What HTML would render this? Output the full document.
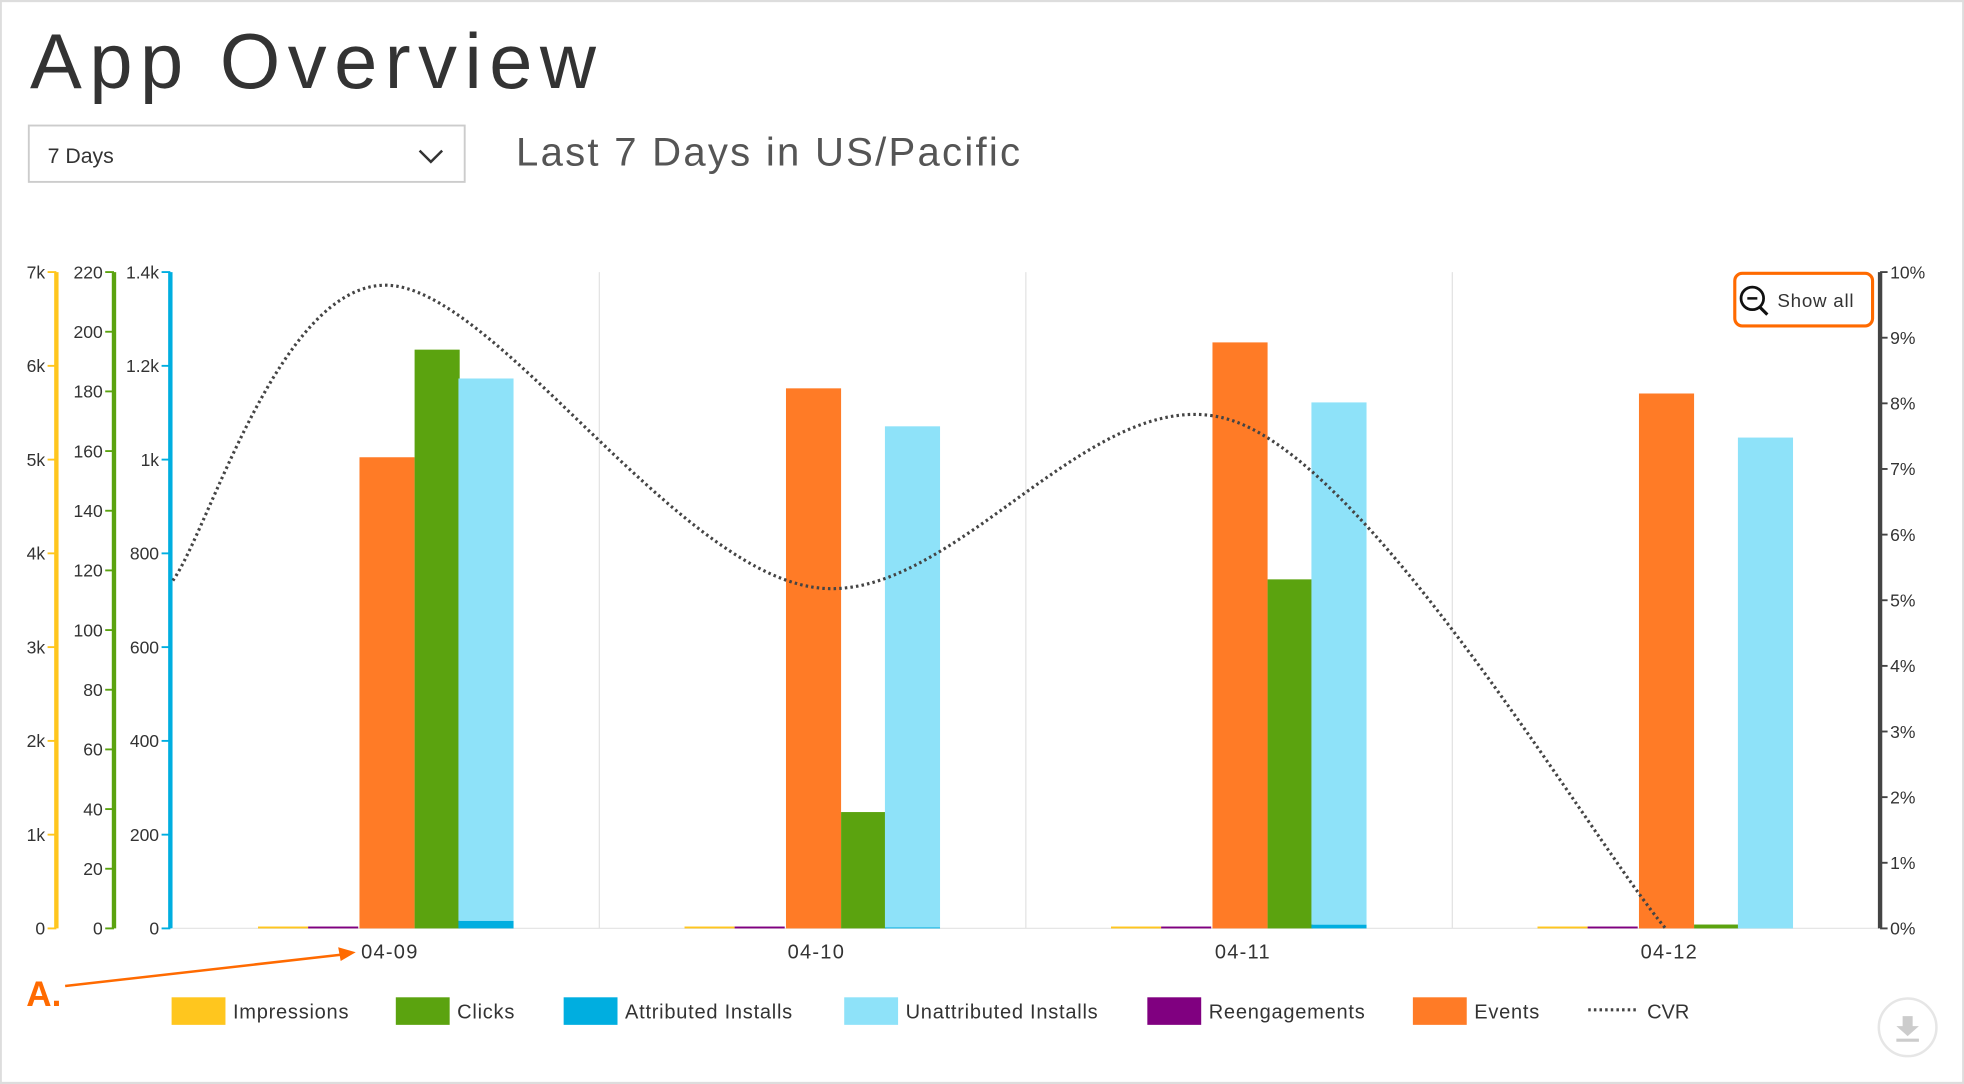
<!DOCTYPE html>
<html><head><meta charset="utf-8">
<style>
html,body{margin:0;padding:0;background:#fff;}
svg{display:block;font-family:"Liberation Sans",sans-serif;}
</style></head>
<body>
<svg id="chart" width="1964" height="1084" viewBox="0 0 1568 865" xmlns="http://www.w3.org/2000/svg">
<rect x="0.5" y="0.5" width="1567" height="864" fill="#fff" stroke="#ddd" stroke-width="2"/>
<text x="24" y="70" font-size="62" fill="#333" letter-spacing="6">App Overview</text>
<g>
<rect x="23" y="100" width="348" height="45" fill="#fff" stroke="#ccc" stroke-width="1.5"/>
<text x="38" y="130" font-size="17" fill="#333">7 Days</text>
<path d="M335 120 L344 129 L353 120" fill="none" stroke="#333" stroke-width="2"/>
</g>
<text x="412" y="132" font-size="32" fill="#555" letter-spacing="1.8">Last 7 Days in US/Pacific</text>
<g id="plot"></g>
<g>
<rect x="1385" y="218" width="110" height="42" rx="6" fill="#fff" stroke="#FF6A00" stroke-width="2.5"/>
<circle cx="1399" cy="238" r="9" fill="none" stroke="#111" stroke-width="2.2"/>
<line x1="1395" y1="238" x2="1403" y2="238" stroke="#111" stroke-width="2"/>
<line x1="1405" y1="245" x2="1411" y2="251" stroke="#111" stroke-width="2.5"/>
<text x="1419" y="245" font-size="15" fill="#333" letter-spacing="0.6">Show all</text>
</g>
<g>
<text x="21" y="803" font-size="28" font-weight="bold" fill="#FF6A00">A.</text>
<line x1="52" y1="787" x2="272" y2="762" stroke="#FF6A00" stroke-width="2"/>
<path d="M284 760 L270 756 L272 767 Z" fill="#FF6A00"/>
</g>
<g id="legend"></g>
<g>
<circle cx="1523" cy="820" r="23" fill="#fff" stroke="#e6e6e6" stroke-width="2"/>
<path d="M1519 811 h8 v8 h5 l-9 8 l-9 -8 h5 z" fill="#ccc"/>
<rect x="1514" y="829" width="18" height="2.5" fill="#ccc"/>
</g>
</svg>
<script>
const categories = ["04-09","04-10","04-11","04-12"];
const impressions = [6, 5, 6, 5];
const clicks = [194, 39, 117, 1.3];
const attributedInstalls = [16, 2, 8, 0];
const unattributedInstalls = [1157, 1069, 1114, 1047];
const reengagements = [1, 1, 1, 1];
const events = [1005, 1152, 1250, 1141];
const cvr = [9.8, 5.2, 7.7, 0];
const cvrStart = 5.3;
const yellowTicks = [0,1000,2000,3000,4000,5000,6000,7000];
const yellowLabels = ["0","1k","2k","3k","4k","5k","6k","7k"];
const greenTicks = [0,20,40,60,80,100,120,140,160,180,200,220];
const blueTicks = [0,200,400,600,800,1000,1200,1400];
const blueLabels = ["0","200","400","600","800","1k","1.2k","1.4k"];
const rightTicks = [0,1,2,3,4,5,6,7,8,9,10];

const NS="http://www.w3.org/2000/svg";
const plot=document.getElementById('plot');
function mk(tag,attrs,parent){const e=document.createElementNS(NS,tag);for(const k in attrs)e.setAttribute(k,attrs[k]);(parent||plot).appendChild(e);return e;}
const pTop=217,pBot=741,H=pBot-pTop,pLeft=138,pRight=1500;
const bandW=(pRight-pLeft)/categories.length;
const yY=v=>pBot-v/7000*H, yG=v=>pBot-v/220*H, yB=v=>pBot-v/1400*H, yR=v=>pBot-v/10*H;
const xBand=i=>pLeft+i*bandW;

for(let i=1;i<categories.length;i++){const l=mk('line',{x1:xBand(i),x2:xBand(i),y1:pTop,y2:pBot,stroke:'#e3e3e3','stroke-width':1});

}
const base=mk('line',{x1:pLeft,x2:pRight,y1:pBot,y2:pBot,stroke:'#e6e6e6','stroke-width':1});



function axis(x,color,ticks,labels,scale,name,side){
  const g=mk('g',{});
  
  
  mk('line',{x1:x,x2:x,y1:pTop,y2:pBot,stroke:color,'stroke-width':3.5},g);
  ticks.forEach((t,i)=>{const y=scale(t);
    if(side==='left'){mk('line',{x1:x-7,x2:x,y1:y,y2:y,stroke:color,'stroke-width':1.5},g);
      const tx=mk('text',{x:x-9,y:y+5,'font-size':14,fill:'#333','text-anchor':'end'},g);tx.textContent=labels[i];}
    else{mk('line',{x1:x,x2:x+6,y1:y,y2:y,stroke:color,'stroke-width':1.5},g);
      const tx=mk('text',{x:x+8,y:y+5,'font-size':14,fill:'#333'},g);tx.textContent=labels[i];}
  });
}
axis(45,'#FFC61E',yellowTicks,yellowLabels,yY,'impressions-axis','left');
axis(91,'#5BA30F',greenTicks,greenTicks.map(String),yG,'clicks-axis','left');
axis(136,'#00AEE0',blueTicks,blueLabels,yB,'installs-axis','left');
axis(1501,'#444',rightTicks,rightTicks.map(t=>t+'%'),yR,'cvr-axis','right');

function bar(x,w,y,color,name){const r=mk('rect',{x:x,y:y,width:w,height:Math.max(0,pBot-y),fill:color});

}
categories.forEach((c,i)=>{
  const b=xBand(i);
  bar(b+68,40,Math.min(yY(impressions[i]),pBot-1.5),'#FFC61E','bar-impressions-'+c);
  bar(b+108,40,Math.min(yB(reengagements[i]),pBot-1.5),'#800080','bar-reengagements-'+c);
  bar(b+149,44,yB(events[i]),'#FF7B26','bar-events-'+c);
  bar(b+193,36,yG(clicks[i]),'#5BA30F','bar-clicks-'+c);
  const ua=mk('rect',{x:b+228,y:yB(unattributedInstalls[i]+attributedInstalls[i]),width:44,height:pBot-yB(unattributedInstalls[i]),fill:'#8EE2F9'});
  
  
  const at=mk('rect',{x:b+228,y:yB(attributedInstalls[i]),width:44,height:pBot-yB(attributedInstalls[i]),fill:'#00AEE0'});
  
  
  const lab=mk('text',{x:b+bandW/2+3,y:765,'font-size':16,fill:'#333','text-anchor':'middle','letter-spacing':1});
  
  
  lab.textContent=c;
});
const pts=[[pLeft,yR(cvrStart)]].concat(cvr.map((v,i)=>[xBand(i)+bandW/2,yR(v)]));
let d='M'+pts[0][0]+' '+pts[0][1];
for(let i=0;i<pts.length-1;i++){
  const p0=pts[Math.max(0,i-1)],p1=pts[i],p2=pts[i+1],p3=pts[Math.min(pts.length-1,i+2)];
  const c1=[p1[0]+(p2[0]-p0[0])/6,p1[1]+(p2[1]-p0[1])/6],c2=[p2[0]-(p3[0]-p1[0])/6,p2[1]-(p3[1]-p1[1])/6];
  d+=` C${c1[0]} ${c1[1]} ${c2[0]} ${c2[1]} ${p2[0]} ${p2[1]}`;
}
const cl=mk('path',{d:d,fill:'none',stroke:'#444','stroke-width':2.5,'stroke-dasharray':'2 2.5'});



const leg=document.getElementById('legend');
const items=[["Impressions","#FFC61E",137],["Clicks","#5BA30F",316],["Attributed Installs","#00AEE0",450],["Unattributed Installs","#8EE2F9",674],["Reengagements","#800080",916],["Events","#FF7B26",1128]];
items.forEach(it=>{
  const g=mk('g',{},leg);
  
  
  mk('rect',{x:it[2],y:796,width:43,height:22,fill:it[1]},g);
  const t=mk('text',{x:it[2]+49,y:813,'font-size':16,fill:'#333','letter-spacing':0.6},g);t.textContent=it[0];
});
const lg=mk('g',{},leg);


mk('line',{x1:1268,x2:1308,y1:806,y2:806,stroke:'#444','stroke-width':2.5,'stroke-dasharray':'2 2.5'},lg);
const lt=mk('text',{x:1315,y:813,'font-size':16,fill:'#333'},lg);lt.textContent='CVR';
</script>
</body></html>
